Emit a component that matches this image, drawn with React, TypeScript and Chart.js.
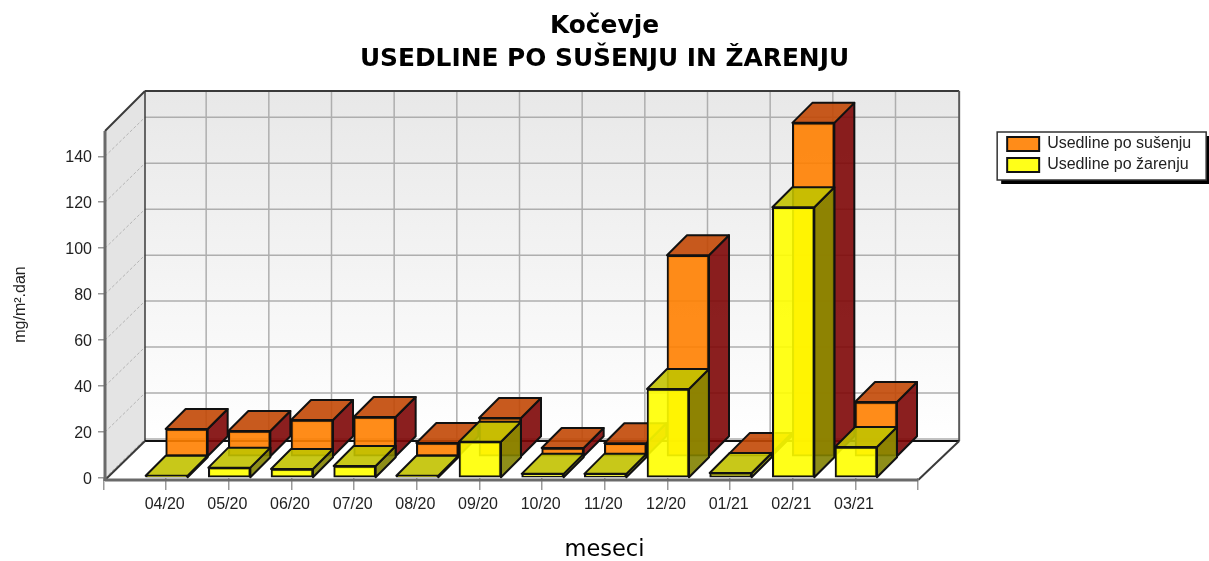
import React, { useEffect, useRef } from "react";
import { Chart, registerables } from "chart.js";

Chart.register(...registerables);

const months = ["04/20", "05/20", "06/20", "07/20", "08/20", "09/20", "10/20", "11/20", "12/20", "01/21", "02/21", "03/21"];
const categories = ["", ...months, ""];
const dried = [null, 12.2, 11.3, 16.1, 17.4, 6.1, 17, 3.9, 6, 87.8, 1.7, 145.4, 23.9, null];
const ignited = [null, 1, 4.5, 3.9, 5.2, 1, 15.8, 1.8, 1.8, 38.7, 2.2, 117.8, 13.5, null];
const seriesNames = ["Usedline po sušenju", "Usedline po žarenju"];
const titleLines = ["Kočevje", "USEDLINE PO SUŠENJU IN ŽARENJU"];
const yMax = 151;

const INSET = 1.5;
const WALL_DX = 40;
const WALL_DY = 39;
const BAR_DX = 20;
const BAR_DY = 20;
const faces: Record<number, { top: string; side: string; shiftX: number; shiftY: number }> = {
  0: { top: "rgba(194,72,5,0.9)", side: "rgba(126,7,7,0.9)", shiftX: 20.5, shiftY: -21 },
  1: { top: "rgba(194,194,0,0.9)", side: "rgba(130,130,0,0.9)", shiftX: 0.5, shiftY: 0 },
};

function line(ctx: CanvasRenderingContext2D, x1: number, y1: number, x2: number, y2: number, color: string, width: number, dash: number[] = []) {
  ctx.save();
  ctx.beginPath();
  ctx.setLineDash(dash);
  ctx.strokeStyle = color;
  ctx.lineWidth = width;
  ctx.moveTo(x1, y1);
  ctx.lineTo(x2, y2);
  ctx.stroke();
  ctx.restore();
}

function poly(ctx: CanvasRenderingContext2D, pts: number[][], fill: any, stroke?: string, lw = 2) {
  ctx.beginPath();
  pts.forEach((p, i) => (i ? ctx.lineTo(p[0], p[1]) : ctx.moveTo(p[0], p[1])));
  ctx.closePath();
  ctx.fillStyle = fill;
  ctx.fill();
  if (stroke) {
    ctx.strokeStyle = stroke;
    ctx.lineWidth = lw;
    ctx.lineJoin = "round";
    ctx.stroke();
  }
}

const box3d = {
  id: "box3d",
  beforeDraw(chart: any) {
    const { ctx, chartArea: a, scales, legend } = chart;
    const { right: r, top: t, bottom: b } = a;
    const l = a.left + INSET;
    const floorY = b + 2;
    const backBottom = floorY - WALL_DY;
    const backTop = t - WALL_DY - 1;
    const backLeft = l + WALL_DX;
    const backRight = r + WALL_DX + 1;
    ctx.save();
    ctx.fillStyle = "#fff";
    ctx.fillRect(0, 0, chart.width, chart.height);
    const g = ctx.createLinearGradient(0, backTop, 0, backBottom);
    g.addColorStop(0, "#e8e8e8");
    g.addColorStop(1, "#ffffff");
    poly(ctx, [[backLeft, backTop], [backRight, backTop], [backRight, backBottom], [backLeft, backBottom]], g);
    poly(ctx, [[l, t], [backLeft, backTop], [backLeft, backBottom], [l, floorY]], "#e4e4e4");

    scales.x.ticks.forEach((_: any, i: number) => {
      const x = scales.x.getPixelForTick(i) + WALL_DX;
      if (x > backLeft && x < backRight - 2) line(ctx, x, backTop, x, backBottom, "#aeaeae", 1.5);
    });
    scales.y.ticks.forEach((tk: any) => {
      const y = scales.y.getPixelForValue(tk.value);
      line(ctx, backLeft, y - WALL_DY, backRight, y - WALL_DY, "#aeaeae", 1.5);
      line(ctx, l, y, backLeft, y - WALL_DY, "#b4b4b4", 1, [3, 2]);
    });

    line(ctx, backLeft, backTop, backRight, backTop, "#3a3a3a", 2);
    line(ctx, backRight, backTop, backRight, backBottom, "#5a5a5a", 2);
    line(ctx, backLeft, backTop, backLeft, backBottom, "#3a3a3a", 1.5);
    line(ctx, backLeft, backBottom, backRight, backBottom, "#111", 2);
    line(ctx, l, t, backLeft, backTop, "#3a3a3a", 2);
    line(ctx, l, floorY, backLeft, backBottom, "#3a3a3a", 2);
    line(ctx, r, floorY, backRight, backBottom, "#3a3a3a", 2);

    if (legend) {
      const fx = legend.left - 5;
      const fy = legend.top + 1;
      const fw = 209;
      const fh = 48;
      ctx.fillStyle = "#000";
      ctx.fillRect(fx + 4, fy + 4, fw, fh);
      ctx.fillStyle = "#fff";
      ctx.fillRect(fx, fy, fw, fh);
      ctx.strokeStyle = "#333";
      ctx.lineWidth = 1.5;
      ctx.strokeRect(fx, fy, fw, fh);
    }
    ctx.restore();
  },
  beforeDatasetsDraw(chart: any) {
    const { ctx, chartArea: a } = chart;
    const l = a.left + INSET;
    line(ctx, l, a.top, l, a.bottom + 3, "#6a6a6a", 3);
    line(ctx, l, a.bottom + 2, a.right, a.bottom + 2, "#6a6a6a", 3);
  },
  beforeDatasetDraw(chart: any, args: any) {
    const { ctx } = chart;
    const f = faces[args.index];
    const values = chart.data.datasets[args.index].data;
    ctx.save();
    ctx.translate(f.shiftX, f.shiftY);
    args.meta.data.forEach((el: any, i: number) => {
      if (values[i] === null) return;
      const x0 = el.x - el.width / 2;
      const x1 = el.x + el.width / 2;
      poly(ctx, [[x1, el.y], [x1 + BAR_DX, el.y - BAR_DY], [x1 + BAR_DX, el.base - BAR_DY], [x1, el.base]], f.side, "#111");
      poly(ctx, [[x0, el.y], [x0 + BAR_DX, el.y - BAR_DY], [x1 + BAR_DX, el.y - BAR_DY], [x1, el.y]], f.top, "#111");
    });
  },
  afterDatasetDraw(chart: any) {
    chart.ctx.restore();
  },
};

export default function App() {
  const ref = useRef<HTMLCanvasElement>(null);
  useEffect(() => {
    const chart = new Chart(ref.current as HTMLCanvasElement, {
      type: "bar",
      data: {
        labels: categories,
        datasets: [
          { label: seriesNames[0], data: dried, order: 2, backgroundColor: "rgba(255,127,0,0.9)" },
          { label: seriesNames[1], data: ignited, order: 1, backgroundColor: "rgba(255,255,0,0.9)" },
        ] as any,
      },
      plugins: [box3d],
      options: {
        responsive: false,
        animation: false,
        devicePixelRatio: 1,
        layout: { padding: { left: 8, right: 8 } },
        datasets: {
          bar: { grouped: false, barThickness: 42, borderWidth: 2, borderColor: "#111", borderSkipped: false, clip: false },
        },
        plugins: {
          tooltip: { enabled: false },
          title: {
            display: true,
            text: titleLines,
            color: "#000",
            font: { family: "'DejaVu Sans'", size: 24.85, weight: "bold", lineHeight: 1.328 },
            padding: { top: 10, bottom: 55 },
          },
          subtitle: {
            display: true,
            position: "bottom",
            text: "meseci",
            color: "#000",
            font: { family: "'DejaVu Sans'", size: 22.5, weight: "normal", lineHeight: 1 },
            padding: 0,
          },
          legend: {
            display: true,
            position: "right",
            align: "start",
            fullSize: false,
            labels: {
              boxWidth: 32,
              boxHeight: 14,
              padding: 5,
              color: "#222",
              font: { family: "'Liberation Sans'", size: 16 },
              sort: (p: any, q: any) => p.datasetIndex - q.datasetIndex,
            },
          },
        },
        scales: {
          x: {
            type: "category",
            offset: false,
            grid: { offset: false, drawOnChartArea: false, tickLength: 12, color: "#999", lineWidth: 1.5 },
            border: { display: false },
            ticks: { autoSkip: false, maxRotation: 0, padding: 5, labelOffset: -1.5, color: "#222", font: { family: "'Liberation Sans'", size: 16 } },
            afterFit: (s: any) => { s.height = 60.5; },
          },
          y: {
            min: 0,
            max: yMax,
            grid: { drawOnChartArea: false, tickLength: 5.5, color: "#999", lineWidth: 1.5 },
            border: { display: false },
            ticks: { stepSize: 20, includeBounds: false, padding: 6, labelOffset: 1.5, color: "#222", font: { family: "'Liberation Sans'", size: 16 } },
            title: { display: true, text: "mg/m².dan", color: "#222", font: { family: "'Liberation Sans'", size: 16 }, padding: { top: 3, bottom: 0 } },
            afterFit: (s: any) => { s.width = 95.5; },
          },
          gap: {
            position: "right",
            min: 0,
            max: 1,
            grid: { display: false },
            border: { display: false },
            ticks: { display: false },
            afterFit: (s: any) => { s.width = 84; },
          },
        },
      } as any,
    });
    return () => chart.destroy();
  }, []);
  return (
    <div style={{ position: "fixed", left: 0, top: 0, width: 1209, height: 561 }}>
      <canvas ref={ref} width={1209} height={561} style={{ display: "block" }} />
    </div>
  );
}
